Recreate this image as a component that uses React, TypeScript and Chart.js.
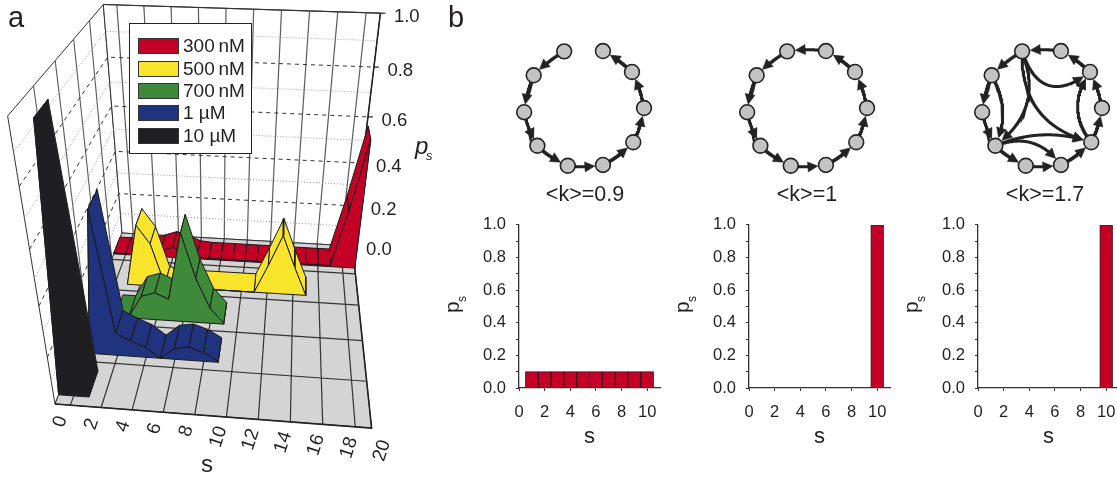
import React, { useEffect, useRef } from "react";
import { Chart, registerables } from "chart.js";

Chart.register(...registerables);

const FONT = '"Liberation Sans", Arial, sans-serif';

// ---- panel a data (p_s by cluster size s, for each concentration)
const redS = [0, 1, 2, 3, 4, 5, 6, 7, 8, 9, 10, 11, 12, 13, 14, 15, 16, 17, 18, 19, 20];
const redP = [0.005, 0.005, 0.005, 0.01, 0.03, 0.05, 0.035, 0.01, 0.005, 0.005, 0.005, 0.005, 0.005, 0.005, 0.005, 0.005, 0.005, 0.005, 0.005, 0.27, 0.58];
const yellowS = [2, 3, 4, 5, 6, 7, 8, 9, 10, 11, 12, 13, 14, 15, 16];
const yellowP = [0, 0.28, 0.2, 0.01, 0, 0, 0, 0, 0, 0, 0, 0.13, 0.27, 0.13, 0];
const greenS = [2, 3, 4, 5, 6, 7, 8, 9, 10];
const greenP = [0.01, 0.01, 0.105, 0.125, 0.1, 0.39, 0.2, 0.07, 0.005];
const blueS = [1, 2, 3, 4, 5, 6, 7, 8, 9, 10];
const blueP = [0, 0.59, 0.1, 0.07, 0.045, 0, 0.05, 0.06, 0.04, 0.005];
const blackS = [0, 1, 2];
const blackP = [0, 0.98, 0];
const legendLabels = ["300\u2009nM", "500\u2009nM", "700\u2009nM", "1 \u00b5M", "10 \u00b5M"];
const seriesColors = ["#c40027", "#f9e42c", "#3f8a3a", "#21327f", "#1f1f21"];
const pTickLabels = ["0.0", "0.2", "0.4", "0.6", "0.8", "1.0"];
const sTickLabels = ["0", "2", "4", "6", "8", "10", "12", "14", "16", "18", "20"];

// ---- panel b data
const barS = [1, 2, 3, 4, 5, 6, 7, 8, 9, 10];
const barP09 = [0.1, 0.1, 0.1, 0.1, 0.1, 0.1, 0.1, 0.1, 0.1, 0.1];
const barP10 = [0, 0, 0, 0, 0, 0, 0, 0, 0, 1];
const barP17 = [0, 0, 0, 0, 0, 0, 0, 0, 0, 1];
const netLabels = ["<k>=0.9", "<k>=1", "<k>=1.7"];
const nodeAngles = [18.4, 53.1, 90, 124.8, 161.6, 195.7, 231, 266, 303, 340.7];
const RING_BULGE = -0.08;
const ring = [[1, 0], [2, 1], [3, 2], [4, 3], [5, 4], [6, 5], [7, 6], [8, 7], [9, 8]].map(([a, b]) => [a, b, RING_BULGE]);
const ringClosing = [[0, 9, RING_BULGE]];
// from, to, bulge
const chords = [[8, 6, 0.26], [9, 6, 0.38], [9, 3, -0.4], [9, 1, -0.7], [3, 1, 0.37], [6, 3, 0.19], [6, 4, 0.38]];

// ---- projection of (s, depth, p) through the perspective of the 3-D box
function project(s: number, v: number, p: number) {
  const u = s / 20;
  const w = -0.0339 * u + 0.3711 * v + 1;
  const q = -0.2273 * p;
  const X = 304 * u + 112.3 * v + 55 + 216 * q;
  const Y = 9.5 * u - 84.5 * v + 404 + 1383 * q;
  return { x: X / (w + q), y: Y / (w + q) };
}

type Layer = any;

function poly(data: any[], fill: string, stroke = "#1a1a1a", width = 1): Layer {
  return { data: [...data, data[0]], polyFill: fill, borderColor: stroke, borderWidth: width };
}
function line(data: any[], color: string, width = 1, dash: number[] = []): Layer {
  return { data, borderColor: color, borderWidth: width, borderDash: dash };
}

function ribbon(ss: number[], ps: number[], band: number, color: string, stroke = "#1a1a1a"): Layer[] {
  const vf = 0.04 + 0.2 * band;
  const vb = 0.16 + 0.2 * band;
  const out: Layer[] = [];
  const segs: [number, number][] = [];
  let i = 0;
  while (i < ss.length - 1) {
    let j = i + 1;
    if (ps[i] === 0 && ps[j] === 0) {
      while (j < ss.length - 1 && ps[j + 1] === 0) j++;
    }
    segs.push([i, j]);
    i = j;
  }
  const dist = (a: [number, number]) => Math.abs((ss[a[0]] + ss[a[1]]) / 2 - 9);
  segs.sort((a, b) => dist(b) - dist(a));
  const last = ss.length - 1;
  for (const [a, b] of segs) {
    out.push(poly([
      project(ss[a], vb, ps[a]), project(ss[b], vb, ps[b]),
      project(ss[b], vf, ps[b]), project(ss[a], vf, ps[a]),
    ], color, stroke));
  }
  const front: any[] = [project(ss[0], vf, 0), project(ss[last], vf, 0)];
  for (let k = last; k >= 0; k--) {
    if (k > 0 && k < last && ps[k] === 0 && ps[k - 1] === 0 && ps[k + 1] === 0) continue;
    front.push(project(ss[k], vf, ps[k]));
  }
  out.unshift(poly([
    project(ss[last], vf, 0), project(ss[last], vb, 0),
    project(ss[last], vb, ps[last]), project(ss[last], vf, ps[last]),
  ], color, stroke));
  out.push(poly(front, color, stroke));
  return out;
}

function boxLayers(): Layer[] {
  const out: Layer[] = [];
  out.push(poly([project(0, 0, 1), project(0, 1, 1), project(0, 1, 0), project(0, 0, 0)], "#ffffff", "#333", 1));
  out.push(poly([project(0, 1, 1), project(20, 1, 1), project(20, 1, 0), project(0, 1, 0)], "#ffffff", "#333", 1));
  for (let s = 1; s < 20; s += 2) out.push(line([project(s, 1, 0), project(s, 1, 1)], "#5c5c5c", 1.2));
  for (const v of [0.2, 0.4, 0.6, 0.8]) out.push(line([project(0, v, 0), project(0, v, 1)], "#5c5c5c", 1.1));
  for (let t = 1; t < 10; t++) {
    const p = t / 10;
    const major = t % 2 === 0;
    const col = major ? "#333" : "#9a9a9a";
    const dash = major ? [4, 4] : [1, 2];
    out.push(line([project(0, 0, p), project(0, 1, p), project(20, 1, p)], col, 1, dash));
  }
  out.push(poly([project(0, 0, 0), project(20, 0, 0), project(20, 1, 0), project(0, 1, 0)], "#d4d4d4", "#333", 1));
  for (let s = 1; s < 20; s += 2) out.push(line([project(s, 0, 0), project(s, 1, 0)], "#333", 1.2));
  for (const v of [0.2, 0.4, 0.6, 0.8]) out.push(line([project(0, v, 0), project(20, v, 0)], "#333", 1.2));
  out.push(line([project(0, 0, 0), project(20, 0, 0), project(20, 1, 0)], "#222", 1.6));
  out.push(line([project(20, 1, 0), project(20, 1, 1)], "#222", 1.5));
  out.push(line([project(0, 1, 1), project(20, 1, 1)], "#333", 1.2));
  for (const t of [0, 1, 2, 3, 4, 5]) {
    const a = project(20, 1, t / 5);
    out.push(line([a, { x: a.x + 5, y: a.y }], "#222", 1.2));
  }
  return out;
}

function netLayers(cx: number, cy: number, edges: number[][]): Layer[] {
  const R = 60;
  const nodes = nodeAngles.map((d) => ({
    x: cx + R * Math.sin((d * Math.PI) / 180),
    y: cy - R * Math.cos((d * Math.PI) / 180),
  }));
  const out: Layer[] = [];
  const r = 8;
  for (const [a, b, c] of edges) {
    const A = nodes[a];
    const B = nodes[b];
    const dx = B.x - A.x;
    const dy = B.y - A.y;
    const C = { x: (A.x + B.x) / 2 + dy * c, y: (A.y + B.y) / 2 - dx * c };
    const at = (t: number) => ({
      x: (1 - t) * (1 - t) * A.x + 2 * t * (1 - t) * C.x + t * t * B.x,
      y: (1 - t) * (1 - t) * A.y + 2 * t * (1 - t) * C.y + t * t * B.y,
    });
    const pts: any[] = [];
    let tip = at(1);
    let tail = at(1);
    for (let t = 0; t <= 1.0001; t += 0.01) {
      const P = at(t);
      const d = Math.hypot(P.x - B.x, P.y - B.y);
      if (d >= r + 7) { pts.push(P); tail = P; }
      if (d >= r) tip = P;
    }
    out.push(line(pts, "#222", 3));
    const ax = tip.x - tail.x;
    const ay = tip.y - tail.y;
    const L = Math.hypot(ax, ay) || 1;
    const ux = ax / L;
    const uy = ay / L;
    const h = 10;
    const w = 5;
    const base = { x: tip.x - ux * h, y: tip.y - uy * h };
    out.push(poly([
      tip,
      { x: base.x - uy * w, y: base.y + ux * w },
      { x: base.x + uy * w, y: base.y - ux * w },
    ], "#222", "#222", 0.5));
  }
  out.push({
    data: nodes, showLine: false, pointRadius: 7.4,
    pointBackgroundColor: "#c3c3c3", pointBorderColor: "#222", pointBorderWidth: 1.6,
  });
  return out;
}

const polygonFill = {
  id: "polygonFill",
  beforeDatasetDraw(chart: any, args: any) {
    const ds = chart.data.datasets[args.index];
    if (!ds.polyFill) return;
    const ctx = chart.ctx;
    ctx.save();
    ctx.beginPath();
    args.meta.data.forEach((pt: any, i: number) => (i ? ctx.lineTo(pt.x, pt.y) : ctx.moveTo(pt.x, pt.y)));
    ctx.closePath();
    ctx.fillStyle = ds.polyFill;
    ctx.fill();
    ctx.restore();
  },
};

const textColor = "#231f20";

const annotations = {
  id: "annotations",
  afterDatasetsDraw(chart: any) {
    const ctx = chart.ctx;
    const sx = chart.scales.x;
    const sy = chart.scales.y;
    const px = (p: { x: number; y: number }) => ({ x: sx.getPixelForValue(p.x), y: sy.getPixelForValue(p.y) });
    ctx.save();
    ctx.fillStyle = textColor;
    ctx.textAlign = "left";
    ctx.textBaseline = "alphabetic";
    ctx.font = `29px ${FONT}`;
    ctx.fillText("a", 8, 27);
    ctx.fillText("b", 448, 27);

    // legend
    ctx.fillStyle = "#fff";
    ctx.strokeStyle = "#222";
    ctx.lineWidth = 1;
    ctx.fillRect(129.5, 23.5, 122, 130);
    ctx.strokeRect(129.5, 23.5, 122, 130);
    const swatchY = [38, 61, 83, 105, 128];
    const textY = [52, 75, 97, 119, 142];
    ctx.font = `19px ${FONT}`;
    legendLabels.forEach((lab, i) => {
      ctx.fillStyle = seriesColors[i];
      ctx.fillRect(138.5, swatchY[i] + 0.5, 40, 15);
      ctx.strokeStyle = "#333";
      ctx.strokeRect(138.5, swatchY[i] + 0.5, 40, 15);
      ctx.fillStyle = textColor;
      ctx.fillText(lab, 183, textY[i]);
    });

    ctx.font = `18.5px ${FONT}`;
    pTickLabels.forEach((lab, i) => {
      const a = px(project(20, 1, i / 5));
      ctx.fillText(lab, a.x + 13.5, a.y + 8.7);
    });
    ctx.font = `19px ${FONT}`;
    ctx.textAlign = "center";
    ctx.textBaseline = "middle";
    sTickLabels.forEach((lab, i) => {
      const s = i * 2;
      const a = px(project(s, 0, 0));
      const dx = 5.5 + 0.25 * s;
      const dy = lab.length > 1 ? 21 + 0.15 * (s - 10) : 17.7;
      ctx.save();
      ctx.translate(a.x + dx, a.y + dy);
      ctx.rotate((-72 * Math.PI) / 180);
      ctx.fillText(lab, 0, 0);
      ctx.restore();
    });
    ctx.textBaseline = "alphabetic";
    ctx.font = `24px ${FONT}`;
    ctx.fillText("s", 207, 472);
    ctx.textAlign = "left";
    ctx.font = `italic 24px ${FONT}`;
    ctx.fillText("p", 415, 154);
    ctx.font = `italic 13px ${FONT}`;
    ctx.fillText("s", 426, 160);

    ctx.textAlign = "center";
    ctx.font = `21.5px ${FONT}`;
    [585, 807, 1045].forEach((x, i) => ctx.fillText(netLabels[i], x, 201));

    ctx.textAlign = "left";
    [459, 689, 918].forEach((x) => {
      ctx.save();
      ctx.translate(x, 313);
      ctx.rotate(-Math.PI / 2);
      ctx.font = `21px ${FONT}`;
      ctx.fillText("p", 0, 0);
      ctx.font = `12px ${FONT}`;
      ctx.fillText("s", 11, 7);
      ctx.restore();
    });
    ctx.restore();
  },
};

function makeBar(canvas: HTMLCanvasElement, values: number[], leftGutter: number, rightPad: number) {
  return new Chart(canvas, {
    type: "bar",
    data: {
      labels: barS,
      datasets: [{
        data: barS.map((s, i) => ({ x: s, y: values[i] })),
        backgroundColor: "#c40027",
        borderColor: "#3b1219",
        borderWidth: 1,
        barPercentage: 1,
        categoryPercentage: 1,
      }],
    },
    options: {
      animation: false,
      responsive: false,
      devicePixelRatio: 1,
      layout: { autoPadding: false, padding: { top: 16, right: rightPad, left: 0, bottom: 0 } },
      plugins: { legend: { display: false }, tooltip: { enabled: false } },
      scales: {
        x: {
          type: "linear",
          min: 0,
          max: 11,
          offset: false,
          afterFit: (s: any) => { s.height = 62; },
          ticks: { stepSize: 2, includeBounds: false, padding: 12, maxRotation: 0, color: textColor, font: { family: FONT, size: 16.5 } },
          grid: { offset: false, drawOnChartArea: false, tickLength: 3, tickColor: "#333" },
          border: { color: "#333", width: 1.3 },
          title: { display: true, text: "s", color: textColor, font: { family: FONT, size: 22 }, padding: { top: 1, bottom: 0 } },
        },
        y: {
          min: 0,
          max: 1,
          afterFit: (s: any) => { s.width = leftGutter; },
          ticks: {
            stepSize: 0.1,
            autoSkip: false,
            padding: 10,
            color: textColor,
            font: { family: FONT, size: 16.5 },
            callback: (v: any, i: number) => (i % 2 === 0 ? Number(v).toFixed(1) : ""),
          },
          grid: { drawOnChartArea: false, tickLength: 3, tickColor: "#333" },
          border: { color: "#333", width: 1.3 },
        },
      },
    } as any,
  });
}

export default function App() {
  const overlay = useRef<HTMLCanvasElement>(null);
  const b1 = useRef<HTMLCanvasElement>(null);
  const b2 = useRef<HTMLCanvasElement>(null);
  const b3 = useRef<HTMLCanvasElement>(null);

  useEffect(() => {
    const layers: Layer[] = [
      ...boxLayers(),
      ...ribbon(redS, redP, 4, seriesColors[0]),
      ...ribbon(yellowS, yellowP, 3, seriesColors[1]),
      ...ribbon(greenS, greenP, 2, seriesColors[2]),
      ...ribbon(blueS, blueP, 1, seriesColors[3]),
      ...ribbon(blackS, blackP, 0, seriesColors[4], seriesColors[4]),
      ...netLayers(584, 108, ring),
      ...netLayers(807, 108, [...ring, ...ringClosing]),
      ...netLayers(1042, 108, [...ring, ...ringClosing, ...chords]),
    ];
    const main = new Chart(overlay.current!, {
      type: "scatter",
      data: {
        datasets: layers.map((d: Layer, i: number) => ({
          showLine: true,
          pointRadius: 0,
          tension: 0,
          clip: false,
          order: layers.length - i,
          ...d,
        })),
      },
      options: {
        animation: false,
        responsive: false,
        devicePixelRatio: 1,
        layout: { autoPadding: false, padding: 0 },
        plugins: { legend: { display: false }, tooltip: { enabled: false } },
        scales: {
          x: { type: "linear", min: 0, max: 1117, display: false },
          y: { type: "linear", min: 0, max: 478, reverse: true, display: false },
        },
      } as any,
      plugins: [polygonFill, annotations],
    });
    const c1 = makeBar(b1.current!, barP09, 49, 10);
    const c2 = makeBar(b2.current!, barP10, 49, 10);
    const c3 = makeBar(b3.current!, barP17, 49, 10);
    return () => {
      main.destroy();
      c1.destroy();
      c2.destroy();
      c3.destroy();
    };
  }, []);

  const abs = (left: number, top: number): React.CSSProperties => ({ position: "absolute", left, top, display: "block" });
  return (
    <div style={{ position: "absolute", left: 0, top: 0, width: 1117, height: 478, overflow: "hidden", background: "#fff" }}>
      <canvas ref={overlay} width={1117} height={478} style={abs(0, 0)} />
      <canvas ref={b1} width={200} height={245} style={abs(470, 205)} />
      <canvas ref={b2} width={200} height={245} style={abs(700, 205)} />
      <canvas ref={b3} width={200} height={245} style={abs(929, 205)} />
    </div>
  );
}
